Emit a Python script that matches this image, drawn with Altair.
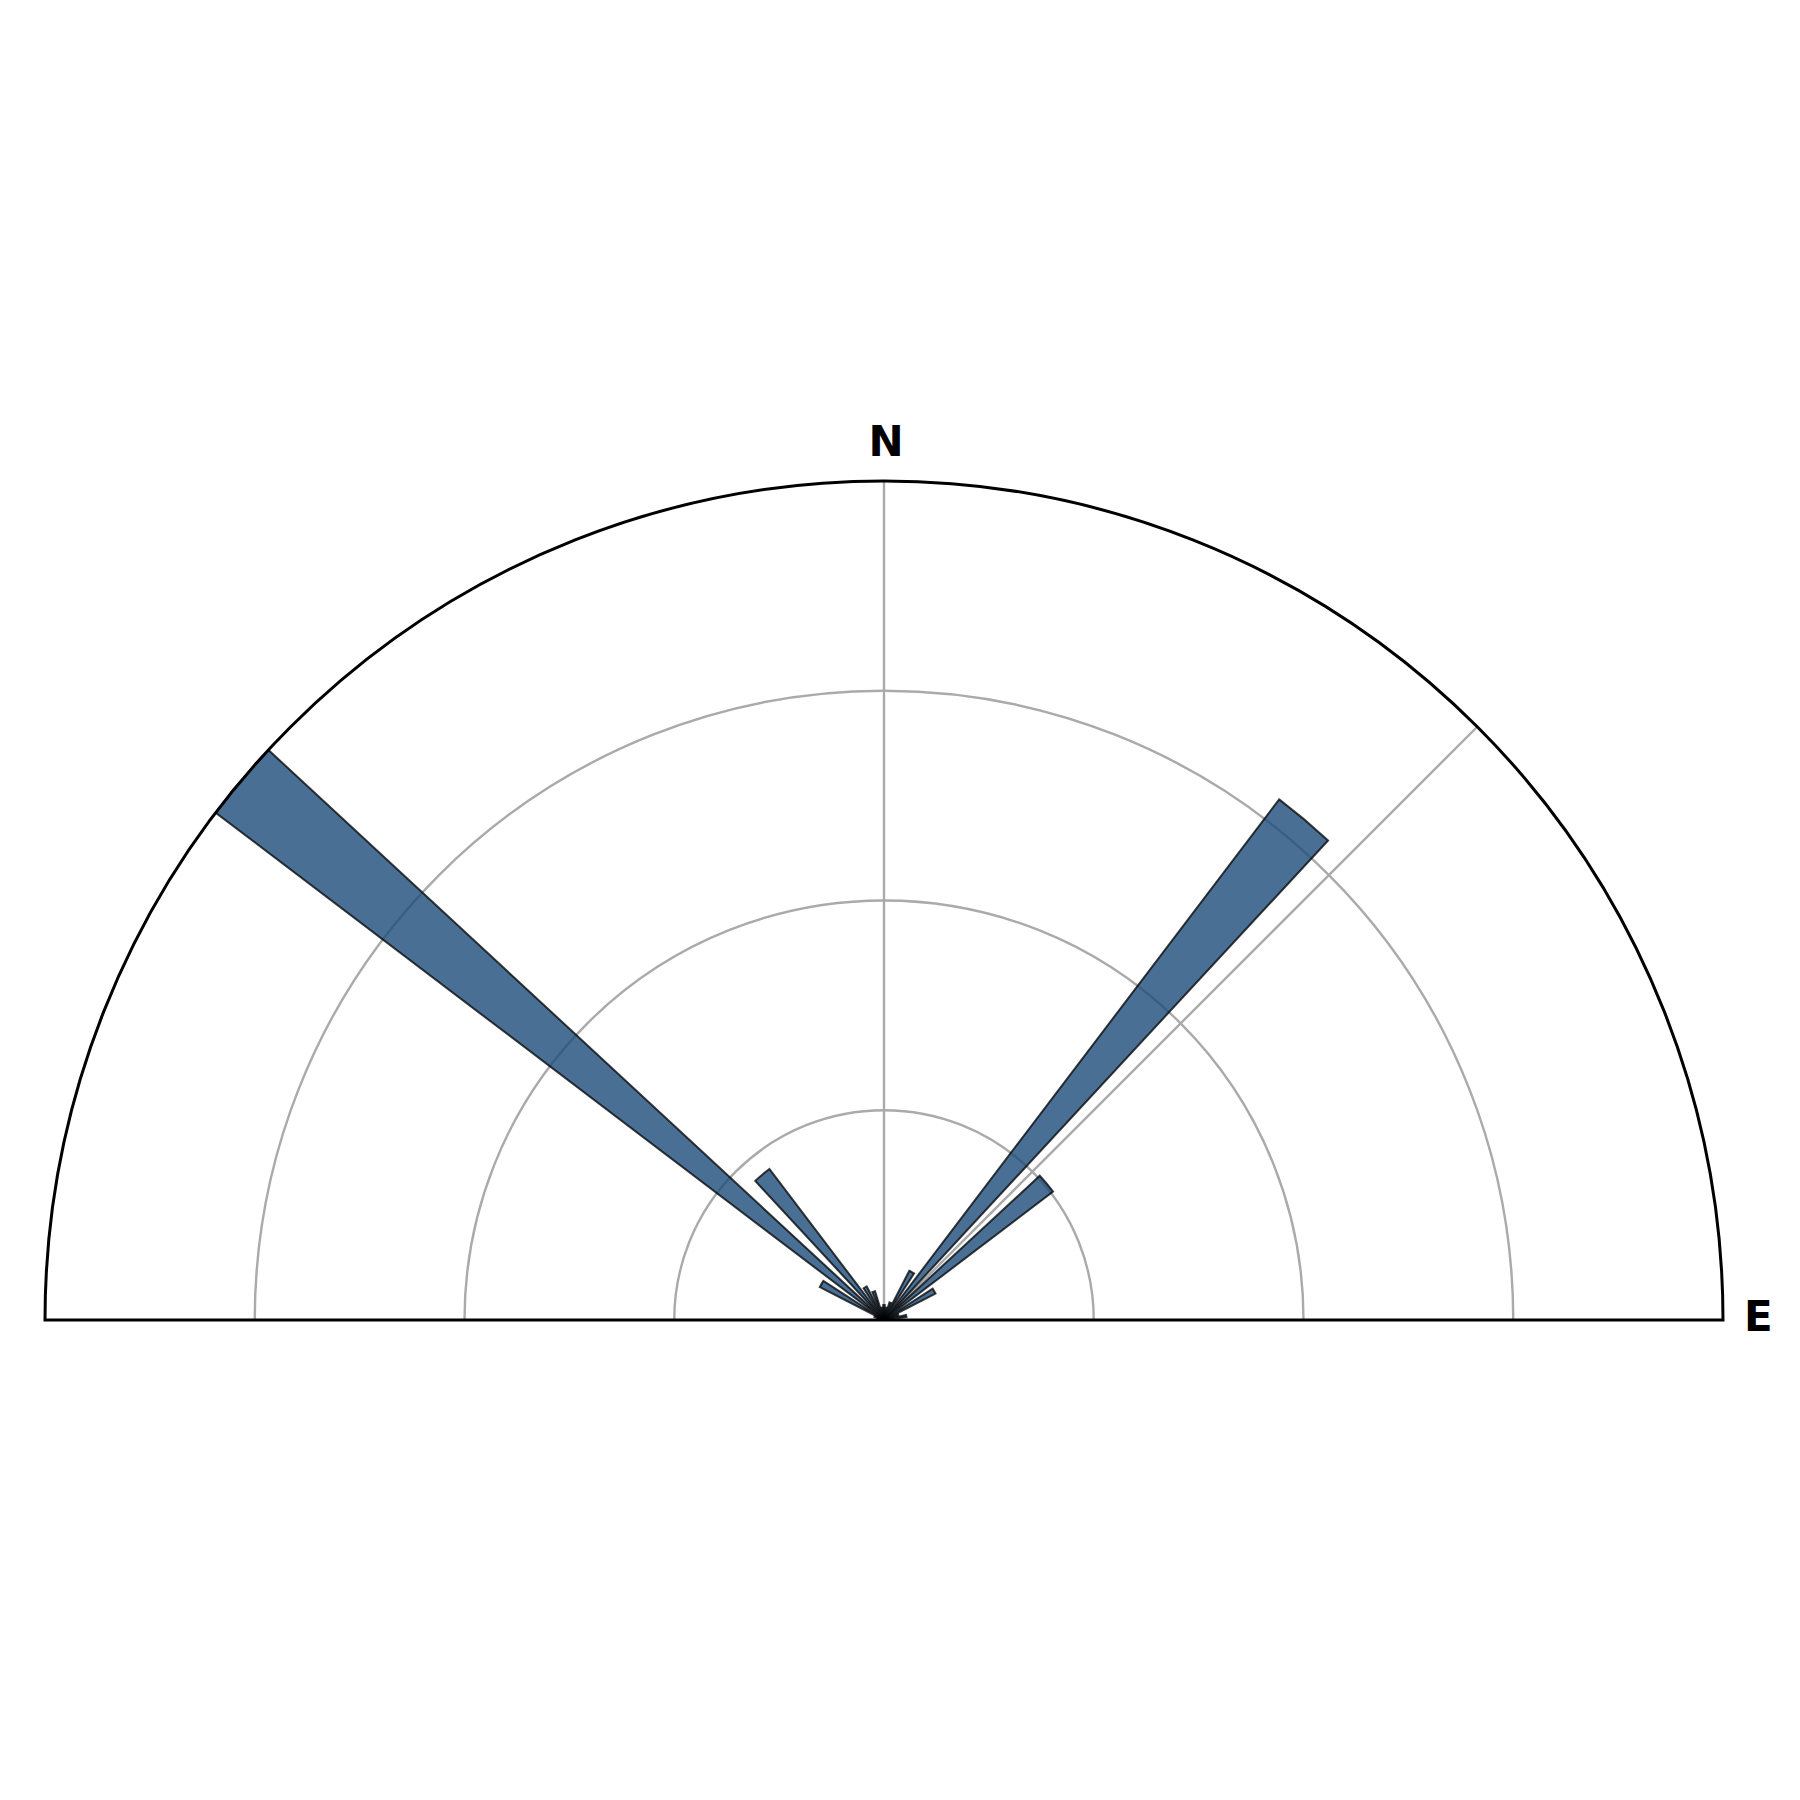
import altair as alt
import pandas as pd

# Rose diagram data: bin centre bearings (deg, clockwise from N) and values (outer ring = 100)
bearings = [280, 290, 300, 310, 320, 330, 340, 350, 0, 10, 20, 30, 40, 50, 60, 70, 80]
values = [0.8, 1.2, 8.6, 100, 22.6, 4.5, 3.6, 1.5, 1.8, 1.5, 2.2, 6.6, 77.9, 25.3, 6.9, 1.8, 2.7]
half_width = 2.8

ring_values = [25, 50, 75]
spoke_angles = [0, 45]
r_max = 100

CX, CY, R = 876, 1312, 839

bars = pd.DataFrame({
    "start": [b - half_width for b in bearings],
    "end": [b + half_width for b in bearings],
    "value": values,
})
rings = pd.DataFrame({"r": ring_values, "a0": [270] * len(ring_values), "a1": [450] * len(ring_values)})
spokes = pd.DataFrame({"a": spoke_angles, "r": [r_max] * len(spoke_angles)})
spine = pd.DataFrame({"a0": [270], "a1": [450], "r": [r_max]})
labels = pd.DataFrame({"t": ["N", "E"]})

theta_scale = alt.Scale(type="linear", domain=[0, 360], range=[0, 6.283185307179586])
r_scale = alt.Scale(type="linear", domain=[0, r_max], range=[0, R], zero=True)

center = dict(x=alt.value(CX), y=alt.value(CY))

ring_layer = alt.Chart(rings).mark_arc(fill=None, stroke="#aaaaaa", strokeWidth=2.4).encode(
    theta=alt.Theta("a0:Q", scale=theta_scale, stack=False),
    theta2="a1:Q",
    radius=alt.Radius("r:Q", scale=r_scale),
    radius2="r:Q",
    **center,
)

spoke_layer = alt.Chart(spokes).mark_arc(fill=None, stroke="#aaaaaa", strokeWidth=2.4).encode(
    theta=alt.Theta("a:Q", scale=theta_scale, stack=False),
    theta2="a:Q",
    radius=alt.Radius("r:Q", scale=r_scale),
    radius2=alt.value(0),
    **center,
)

bar_layer = alt.Chart(bars).mark_arc(
    fill="#1d4b7a", fillOpacity=0.8, stroke="#000000", strokeOpacity=0.75, strokeWidth=2
).encode(
    theta=alt.Theta("start:Q", scale=theta_scale, stack=False),
    theta2="end:Q",
    radius=alt.Radius("value:Q", scale=r_scale),
    radius2=alt.value(0),
    **center,
)

spine_layer = alt.Chart(spine).mark_arc(fill=None, stroke="#000000", strokeWidth=3).encode(
    theta=alt.Theta("a0:Q", scale=theta_scale, stack=False),
    theta2="a1:Q",
    radius=alt.Radius("r:Q", scale=r_scale),
    radius2=alt.value(0),
    **center,
)

n_label = alt.Chart(labels).transform_filter(alt.datum.t == "N").mark_text(
    font="DejaVu Sans", fontWeight="bold", fontSize=42, align="center", baseline="alphabetic", color="black"
).encode(text="t:N", x=alt.value(878), y=alt.value(448))

e_label = alt.Chart(labels).transform_filter(alt.datum.t == "E").mark_text(
    font="DejaVu Sans", fontWeight="bold", fontSize=42, align="left", baseline="alphabetic", color="black"
).encode(text="t:N", x=alt.value(1736), y=alt.value(1323))

chart = alt.layer(ring_layer, spoke_layer, bar_layer, spine_layer, n_label, e_label).properties(
    width=1784, height=1784, padding=0, autosize=alt.AutoSizeParams(type="none"), background="white"
).configure_view(stroke=None)

chart.save("out.html", embed_options={"renderer": "svg", "actions": False})
